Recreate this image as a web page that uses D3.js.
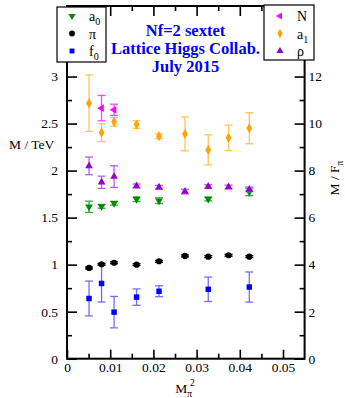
<!DOCTYPE html>
<html>
<head>
<meta charset="utf-8">
<script src="https://cdn.jsdelivr.net/npm/d3@7"></script>
<style>
  body { margin: 0; background: #fff; }
  svg text { font-family: "Liberation Serif", "DejaVu Serif", serif; }
</style>
</head>
<body>
<div id="chart"></div>
<script>
// M_pi^2 values of the ensembles
const xAll = [0.0051, 0.0080, 0.0109, 0.0161, 0.0213, 0.0273, 0.0327, 0.0374, 0.0422];
const xA0 = [0.0051, 0.0080, 0.0109, 0.0161, 0.0213, 0.0327, 0.0422];
const xF0 = [0.0051, 0.0080, 0.0109, 0.0161, 0.0213, 0.0327, 0.0422];
const xN = [0.0080, 0.0109];

// masses in TeV and their errors
const piM = [0.965, 1.004, 1.02, 1.0, 1.036, 1.093, 1.085, 1.10, 1.085];
const piErr = [0.01, 0.01, 0.01, 0.01, 0.01, 0.01, 0.01, 0.01, 0.01];
const f0M = [0.64, 0.80, 0.495, 0.655, 0.717, 0.738, 0.762];
const f0Err = [0.185, 0.197, 0.167, 0.087, 0.058, 0.13, 0.16];
const a0M = [1.615, 1.62, 1.653, 1.696, 1.68, 1.698, 1.773];
const a0Err = [0.06, 0.02, 0.02, 0.025, 0.03, 0.02, 0.04];
const rhoM = [2.05, 1.876, 1.936, 1.837, 1.823, 1.777, 1.83, 1.826, 1.80];
const rhoErr = [0.094, 0.065, 0.115, 0.02, 0.02, 0.025, 0.02, 0.02, 0.025];
const a1M = [2.717, 2.404, 2.518, 2.489, 2.366, 2.39, 2.22, 2.348, 2.45];
const a1Err = [0.30, 0.095, 0.045, 0.04, 0.025, 0.18, 0.16, 0.135, 0.165];
const nM = [2.664, 2.646];
const nErr = [0.135, 0.06];

const xTicks = [0, 0.01, 0.02, 0.03, 0.04, 0.05];
const yTicks = [0, 0.5, 1, 1.5, 2, 2.5, 3];
const yRightTicks = [0, 2, 4, 6, 8, 10, 12];
const titleLines = ["Nf=2 sextet", "Lattice Higgs Collab.", "July 2015"];

const W = 345, H = 398;
const pL = 67, pR = 304.6, pT = 6, pB = 358.7;

const svg = d3.select('#chart').append('svg')
  .attr('width', W)
  .attr('height', H);

const x = d3.scaleLinear().domain([0, 0.055]).range([pL, pR]);
const y = d3.scaleLinear().domain([0, 3.75]).range([pB, pT]);
const yR = d3.scaleLinear().domain([0, 15]).range([pB, pT]);

const fmt = d => d === 0 ? '0' : d3.format('.2~f')(d);

// minor ticks
const xMinor = d3.range(0.005, 0.055, 0.01);
const yMinor = d3.range(0.25, 3.75, 0.5);
const yRMinor = d3.range(1, 15, 2);

function styleAxis(g) {
  g.selectAll('.domain').remove();
  g.selectAll('line').attr('stroke', '#000').attr('stroke-width', 1.6);
  g.selectAll('text').attr('font-size', 13.5).attr('fill', '#000')
    .style('font-family', '"Liberation Serif", serif');
}

// bottom
svg.append('g').attr('transform', `translate(0,${pB})`)
  .call(d3.axisBottom(x).tickValues(xTicks).tickSize(-9).tickPadding(4).tickFormat(fmt))
  .call(styleAxis);
svg.append('g').attr('transform', `translate(0,${pB})`)
  .call(d3.axisBottom(x).tickValues(xMinor).tickSize(-5).tickFormat(''))
  .call(styleAxis);
// top
svg.append('g').attr('transform', `translate(0,${pT})`)
  .call(d3.axisTop(x).tickValues(xTicks).tickSize(-10).tickFormat(''))
  .call(styleAxis);
svg.append('g').attr('transform', `translate(0,${pT})`)
  .call(d3.axisTop(x).tickValues(xMinor).tickSize(-5).tickFormat(''))
  .call(styleAxis);
// left
svg.append('g').attr('transform', `translate(${pL},0)`)
  .call(d3.axisLeft(y).tickValues(yTicks).tickSize(-10).tickPadding(9).tickFormat(fmt))
  .call(styleAxis);
svg.append('g').attr('transform', `translate(${pL},0)`)
  .call(d3.axisLeft(y).tickValues(yMinor).tickSize(-5).tickFormat(''))
  .call(styleAxis);
// right
svg.append('g').attr('transform', `translate(${pR},0)`)
  .call(d3.axisRight(yR).tickValues(yRightTicks).tickSize(-10).tickPadding(4).tickFormat(d3.format('d')))
  .call(styleAxis);
svg.append('g').attr('transform', `translate(${pR},0)`)
  .call(d3.axisRight(yR).tickValues(yRMinor).tickSize(-5).tickFormat(''))
  .call(styleAxis);

svg.append('rect')
  .attr('x', pL).attr('y', pT)
  .attr('width', pR - pL).attr('height', pB - pT)
  .attr('fill', 'none').attr('stroke', '#000').attr('stroke-width', 2);

// series
const series = [
  { xs: xF0, ys: f0M, es: f0Err, color: '#0000ff', errColor: '#6f6fff', sym: d3.symbolSquare, size: 30, rot: 0 },
  { xs: xAll, ys: piM, es: piErr, color: '#000000', errColor: '#000000', sym: d3.symbolCircle, size: 30, rot: 0 },
  { xs: xA0, ys: a0M, es: a0Err, color: '#008b00', errColor: '#3aa83a', sym: d3.symbolTriangle, size: 26, rot: 180 },
  { xs: xAll, ys: rhoM, es: rhoErr, color: '#9400d3', errColor: '#b860e0', sym: d3.symbolTriangle, size: 26, rot: 0 },
  { xs: xAll, ys: a1M, es: a1Err, color: '#ffa500', errColor: '#ffc45a', sym: d3.symbolDiamond, size: 30, rot: 0 },
  { xs: xN, ys: nM, es: nErr, color: '#ff00ff', errColor: '#ff40ff', sym: d3.symbolTriangle, size: 26, rot: -90 }
];

const plot = svg.append('g');
series.forEach(s => {
  const pts = s.xs.map((xv, i) => ({ x: xv, y: s.ys[i], e: s.es[i] }));
  const eb = plot.append('g').attr('stroke', s.errColor).attr('stroke-width', 1.3).attr('fill', 'none');
  pts.forEach(p => {
    const cx = x(p.x), y0 = y(p.y - p.e), y1 = y(p.y + p.e);
    eb.append('line').attr('x1', cx).attr('x2', cx).attr('y1', y0).attr('y2', y1);
    eb.append('line').attr('x1', cx - 4).attr('x2', cx + 4).attr('y1', y0).attr('y2', y0);
    eb.append('line').attr('x1', cx - 4).attr('x2', cx + 4).attr('y1', y1).attr('y2', y1);
  });
  plot.append('g').selectAll('path')
    .data(pts)
    .join('path')
    .attr('d', d3.symbol().type(s.sym).size(s.size))
    .attr('transform', d => `translate(${x(d.x)},${y(d.y)}) rotate(${s.rot})`)
    .attr('fill', s.color);
});

// legends
function legend(x0, y0, w, h, items, symX, textX) {
  const g = svg.append('g');
  g.append('rect').attr('x', x0).attr('y', y0).attr('width', w).attr('height', h)
    .attr('fill', '#fff').attr('stroke', '#000').attr('stroke-width', 1.2);
  items.forEach((it, i) => {
    const yy = 16 + i * 17.5;
    g.append('path')
      .attr('d', d3.symbol().type(it.sym).size(it.size))
      .attr('transform', `translate(${symX},${yy}) rotate(${it.rot})`)
      .attr('fill', it.color);
    const t = g.append('text').attr('x', textX).attr('y', yy + 5)
      .attr('font-size', 14).attr('fill', '#000').text(it.label);
    if (it.sub) t.append('tspan').attr('font-size', 10).attr('dy', 4).text(it.sub);
  });
}
legend(57, 7, 49, 55, [
  { label: 'a', sub: '0', sym: d3.symbolTriangle, size: 22, rot: 180, color: '#008b00' },
  { label: 'π', sym: d3.symbolCircle, size: 26, rot: 0, color: '#000' },
  { label: 'f', sub: '0', sym: d3.symbolSquare, size: 24, rot: 0, color: '#0000ff' }
], 72, 89);
legend(264, 5, 50, 55, [
  { label: 'N', sym: d3.symbolTriangle, size: 22, rot: -90, color: '#ff00ff' },
  { label: 'a', sub: '1', sym: d3.symbolDiamond, size: 26, rot: 0, color: '#ffa500' },
  { label: 'ρ', sym: d3.symbolTriangle, size: 22, rot: 0, color: '#9400d3' }
], 280, 297);

// title
svg.append('g').selectAll('text')
  .data(titleLines)
  .join('text')
  .attr('x', 185.5)
  .attr('y', (d, i) => 36 + i * 17.8)
  .attr('text-anchor', 'middle')
  .attr('font-size', 16.5)
  .attr('font-weight', 'bold')
  .attr('fill', '#0000ff')
  .text(d => d);

// axis titles
svg.append('text').attr('x', 9).attr('y', 149).attr('font-size', 13.5).text('M / TeV');

const xl = svg.append('text').attr('x', 185).attr('y', 393).attr('text-anchor', 'middle').attr('font-size', 13.5);
xl.append('tspan').text('M');
xl.append('tspan').attr('font-size', 9.5).attr('dy', 4).text('π');
xl.append('tspan').attr('font-size', 9.5).attr('dy', -11).attr('dx', -2).text('2');

const yl = svg.append('text').attr('transform', 'translate(339,178) rotate(-90)')
  .attr('text-anchor', 'middle').attr('font-size', 13.5);
yl.append('tspan').text('M / F');
yl.append('tspan').attr('font-size', 9.5).attr('dy', 4).text('π');
</script>
</body>
</html>
